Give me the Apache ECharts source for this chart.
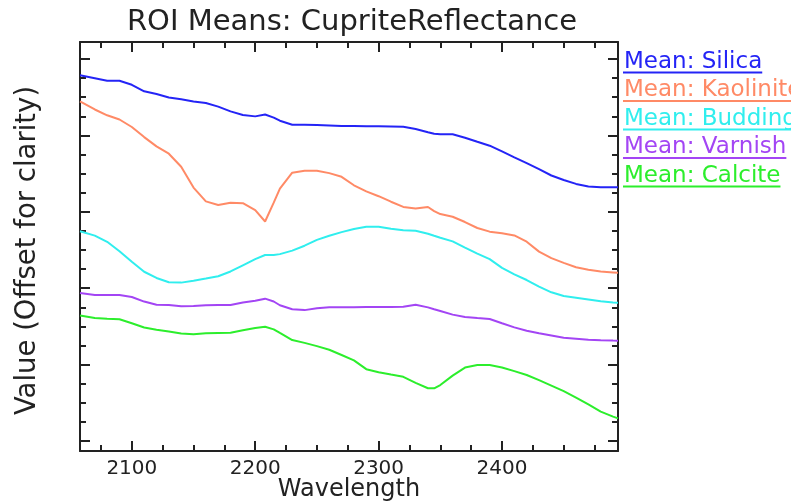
<!DOCTYPE html>
<html><head><meta charset="utf-8">
<script src="https://cdn.jsdelivr.net/npm/echarts@6/dist/echarts.min.js"></script>
<style>html,body{margin:0;padding:0;background:#fff}#c{width:791px;height:504px}</style>
</head><body><div id="c"></div>
<script>
// ---- data ----
const wavelengths = [2058,2070,2080,2090,2100,2110,2120,2130,2140,2150,2160,2170,2180,2190,2200,2208,2215,2220,2230,2240,2250,2260,2270,2280,2290,2300,2310,2320,2330,2340,2345,2350,2360,2370,2380,2390,2400,2410,2420,2430,2440,2450,2460,2470,2480,2490,2494];
const silica = [4.787,4.749,4.716,4.716,4.662,4.577,4.542,4.496,4.473,4.445,4.424,4.377,4.314,4.268,4.249,4.274,4.232,4.192,4.140,4.140,4.135,4.130,4.124,4.122,4.120,4.119,4.117,4.114,4.084,4.042,4.022,4.014,4.014,3.969,3.916,3.865,3.791,3.713,3.637,3.558,3.475,3.416,3.365,3.331,3.321,3.321,3.321];
const kaolinite = [4.446,4.339,4.263,4.208,4.110,3.978,3.856,3.760,3.589,3.317,3.136,3.089,3.118,3.113,3.022,2.873,3.120,3.304,3.512,3.538,3.538,3.506,3.458,3.347,3.267,3.204,3.132,3.064,3.042,3.063,3.009,2.970,2.935,2.866,2.788,2.740,2.719,2.691,2.609,2.479,2.393,2.331,2.274,2.241,2.220,2.207,2.202];
const buddingtonite = [2.745,2.688,2.607,2.484,2.346,2.215,2.134,2.077,2.073,2.098,2.127,2.157,2.219,2.300,2.381,2.435,2.435,2.446,2.492,2.556,2.632,2.686,2.734,2.775,2.805,2.805,2.777,2.758,2.751,2.713,2.686,2.660,2.613,2.531,2.453,2.380,2.266,2.182,2.107,2.021,1.946,1.898,1.876,1.853,1.830,1.814,1.809];
const varnish = [1.936,1.911,1.911,1.911,1.885,1.825,1.784,1.781,1.763,1.767,1.777,1.779,1.780,1.814,1.835,1.863,1.826,1.777,1.725,1.713,1.737,1.750,1.750,1.750,1.753,1.754,1.755,1.757,1.784,1.749,1.724,1.702,1.654,1.624,1.609,1.597,1.541,1.487,1.444,1.411,1.382,1.352,1.339,1.326,1.318,1.314,1.313];
const calcite = [1.644,1.610,1.601,1.593,1.541,1.486,1.457,1.433,1.407,1.397,1.411,1.414,1.416,1.449,1.479,1.495,1.461,1.414,1.321,1.284,1.242,1.194,1.126,1.056,0.940,0.899,0.869,0.840,0.760,0.690,0.690,0.732,0.856,0.961,0.995,0.995,0.963,0.915,0.864,0.796,0.725,0.652,0.568,0.478,0.384,0.319,0.296];
const seriesNames = ['Mean: Silica','Mean: Kaolinite','Mean: Buddingtonite','Mean: Varnish','Mean: Calcite'];
const xTickLabels = [2100,2200,2300,2400];
const xRange = [2058, 2494];
const yRange = [-0.131, 5.2225];

// ---- styles ----
const colors = ['#2424f6','#ff8a66','#30eeee','#a345f4','#2cee2c'];
const FONT = '"DejaVu Sans", sans-serif';
const INK = '#222';

const seriesValues = [silica, kaolinite, buddingtonite, varnish, calcite];
const chart = echarts.init(document.getElementById('c'), null, {renderer:'canvas', width:791, height:504});

function axisCommon(){
  return {
    type:'value',
    axisLine:{show:true, onZero:false, lineStyle:{color:INK, width:2}},
    axisTick:{show:true, inside:true, length:10, lineStyle:{color:INK, width:2}},
    minorTick:{show:true, splitNumber:4, length:6, lineStyle:{color:INK, width:2}},
    splitLine:{show:false},
    minorSplitLine:{show:false}
  };
}

const ctx = document.createElement('canvas').getContext('2d');
const legendFont = '23px "DejaVu Sans"';
ctx.font = legendFont;
const graphics = [];
seriesNames.forEach((n,i)=>{
  const uy = 72.5 + 28.5*i;
  const w = ctx.measureText(n).width;
  graphics.push({type:'text', x:624, y:uy+1, style:{text:n, fill:colors[i], font:legendFont, verticalAlign:'bottom', textVerticalAlign:'bottom'}});
  graphics.push({type:'line', shape:{x1:623, y1:uy, x2:624+w, y2:uy}, style:{stroke:colors[i], lineWidth:2}});
});

const option = {
  animation:false,
  backgroundColor:'#fff',
  title:{text:'ROI Means: CupriteReflectance', left:347, top:3, textAlign:'center',
    textStyle:{fontFamily:FONT, fontSize:29, fontWeight:'normal', color:INK}},
  grid:{left:80, right:173, top:42, bottom:53, containLabel:false, outerBoundsMode:'none'},
  xAxis:[
    Object.assign(axisCommon(), {position:'bottom', min:xRange[0], max:xRange[1],
      axisLabel:{show:true, customValues:xTickLabels, margin:8, fontSize:20, color:INK, fontFamily:FONT,
        formatter:(v)=>String(v)},
      name:'Wavelength', nameLocation:'middle', nameGap:27, nameMoveOverlap:false,
      nameTextStyle:{fontSize:24, color:INK, fontFamily:FONT}}),
    Object.assign(axisCommon(), {position:'top', min:xRange[0], max:xRange[1], axisLabel:{show:false}})
  ],
  yAxis:[
    Object.assign(axisCommon(), {position:'left', min:yRange[0], max:yRange[1], axisLabel:{show:false},
      name:'Value (Offset for clarity)', nameLocation:'middle', nameGap:38, nameMoveOverlap:false,
      nameTextStyle:{fontSize:27.5, color:INK, fontFamily:FONT, padding:[0,8,0,0]}}),
    Object.assign(axisCommon(), {position:'right', min:yRange[0], max:yRange[1], axisLabel:{show:false}})
  ],
  series: seriesNames.map((n,i)=>({
    name:n, type:'line', xAxisIndex:0, yAxisIndex:0,
    data: wavelengths.map((w,k)=>[w, seriesValues[i][k]]),
    showSymbol:false, symbol:'none', color:colors[i],
    lineStyle:{color:colors[i], width:2}, emphasis:{disabled:true}
  })),
  graphic: graphics
};
chart.setOption(option);
</script></body></html>
